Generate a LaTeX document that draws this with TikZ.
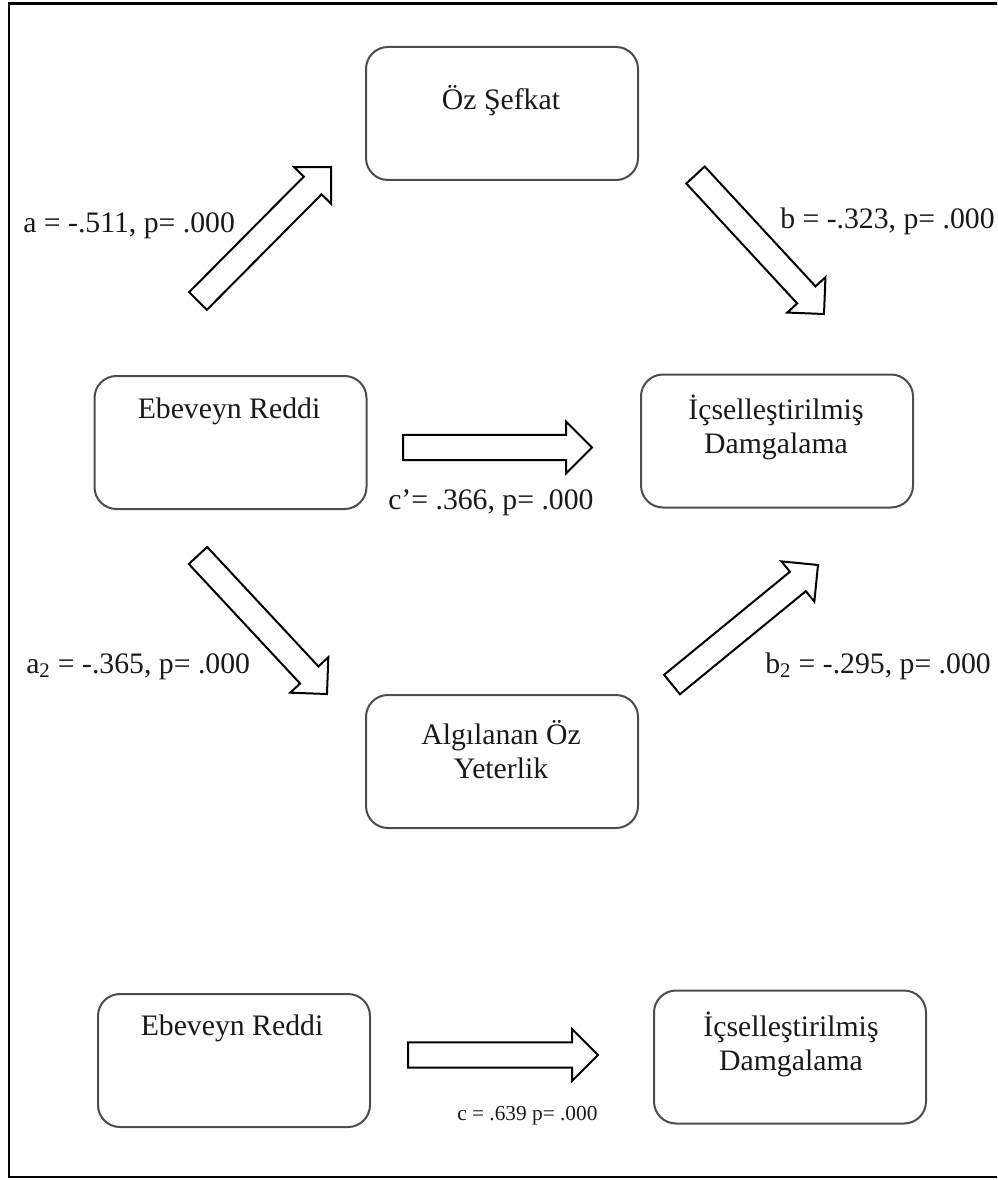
\documentclass[tikz,border=0pt]{standalone}
\usepackage{fontspec}
\setmainfont{Liberation Serif}
\usetikzlibrary{calc}
\tikzset{
  box/.style={draw=black!70, line width=1.5pt, rounded corners=16.5pt,
    minimum width=204pt, minimum height=99.75pt, inner sep=0pt},
  boxtext/.style={anchor=base, align=center, inner sep=0pt, text=black!90},
  lab/.style={anchor=base west, inner sep=0pt, text=black!90},
  barrow/.style={draw=black, line width=1.5pt, line join=miter, fill=white},
  frame/.style={draw=black, line width=2.2pt}
}
\newcommand\blockarr[3]{%
  \coordinate (#1t) at #2;
  \coordinate (#1h) at #3;
  \coordinate (#1b) at ($(#1h)!19.5pt!(#1t)$);
  \draw[barrow] ($(#1t)!9.4pt!90:(#1h)$) -- ($(#1b)!9.4pt!-90:(#1t)$)
    -- ($(#1b)!19.5pt!-90:(#1t)$) -- (#1h) -- ($(#1b)!19.5pt!90:(#1t)$)
    -- ($(#1b)!9.4pt!90:(#1t)$) -- ($(#1t)!9.4pt!-90:(#1h)$) -- cycle;
}
\begin{document}
\begin{tikzpicture}[x=0.75pt, y=-0.75pt, font=\fontsize{22.3}{25.5}\selectfont]
\useasboundingbox (0,0) rectangle (997,1180);
\begin{scope}
\clip (0,0) rectangle (997,1180);
\draw[frame] (9,3.5) rectangle (1010,1177);
\end{scope}
% boxes
\node[box] (os) at (502,113.5) {};
\node[box] (er1) at (230.5,442.5) {};
\node[box] (id1) at (777,441) {};
\node[box] (aoy) at (502,761.5) {};
\node[box] (er2) at (234,1060.5) {};
\node[box] (id2) at (790,1057) {};
% box texts (base = last line baseline)
\node[boxtext] (tos) at (501,110) {Öz Şefkat};
\node[boxtext] (ter1) at (229,418) {Ebeveyn Reddi};
\node[boxtext] (tid1) at (776,453) {İçselleştirilmiş\\Damgalama};
\node[boxtext] (taoy) at (501,778) {Algılanan Öz\\Yeterlik};
\node[boxtext] (ter2) at (232,1035) {Ebeveyn Reddi};
\node[boxtext] (tid2) at (791,1070) {İçselleştirilmiş\\Damgalama};
% block arrows
\blockarr{aa}{(198,301)}{(331,167)}
\blockarr{bb}{(695.5,175)}{(824,314)}
\blockarr{cp}{(403,447.5)}{(592,447.5)}
\blockarr{ab}{(198,555.5)}{(327,694)}
\blockarr{bc}{(672,684.5)}{(818,565)}
\blockarr{cc}{(408,1055)}{(598,1055)}
% labels
\node[lab] (la) at (23,233) {a = -.511, p= .000};
\node[lab] (lb) at (780,229) {b = -.323, p= .000};
\node[lab] (lcp) at (388,509) {c’= .366, p= .000};
\node[lab] (la2) at (26,673) {a\textsubscript{2} = -.365, p= .000};
\node[lab] (lb2) at (765,673) {b\textsubscript{2} = -.295, p= .000};
\node[lab, font=\fontsize{16}{19}\selectfont] (lc) at (457,1120) {c = .639 p= .000};
\end{tikzpicture}
\end{document}
